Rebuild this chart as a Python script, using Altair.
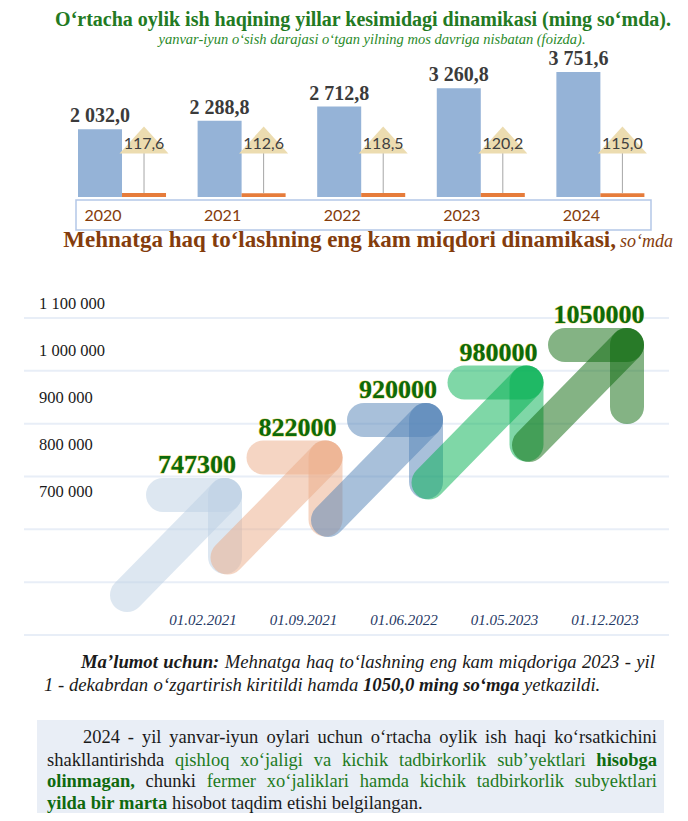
import altair as alt
import pandas as pd

# ---------------- data ----------------
years = ["2020", "2021", "2022", "2023", "2024"]
wages = [2032.0, 2288.8, 2712.8, 3260.8, 3751.6]
growth = [117.6, 112.6, 118.5, 120.2, 115.0]

dates = ["01.02.2021", "01.09.2021", "01.06.2022", "01.05.2023", "01.12.2023"]
min_wage = [747300, 822000, 920000, 980000, 1050000]
axis_ticks = [1100000, 1000000, 900000, 800000, 700000]
grid_rows = [0, 1, 2, 3, 4, 5, 6]

ARROW_COLORS = ["#bbcfe3", "#ebab87", "#5181b5", "#00b050", "#0a680a"]


def fmt(v, dec):
    return f"{v:,.{dec}f}".replace(",", " ").replace(".", ",")


W = 672
one = pd.DataFrame({"a": [0]})

# ---------------- panel A: bars ----------------
BLUE, ORANGE = "#95b3d7", "#e67c3b"
series_dom = ["wage", "growth"]
bars_df = pd.DataFrame({"year": years + years,
                        "series": ["wage"] * 5 + ["growth"] * 5,
                        "value": wages + growth})
wage_df = pd.DataFrame({"year": years, "series": "wage", "value": wages,
                        "label": [fmt(v, 1) for v in wages]})
growth_df = pd.DataFrame({"year": years, "series": "growth", "value": growth,
                          "label": [fmt(v, 1) for v in growth]})

xA = alt.Scale(type="band", domain=years, range=[70, 636.4], paddingInner=0.264, paddingOuter=0)
xoA = alt.Scale(type="band", domain=series_dom, paddingInner=0, paddingOuter=0)
yA = alt.Scale(domain=[0, 5672], range=[189, 0], nice=False, zero=True)


def xenc():
    return dict(x=alt.X("year:N", scale=xA, axis=None),
                xOffset=alt.XOffset("series:N", scale=xoA))


bars = alt.Chart(bars_df).mark_bar().encode(
    **xenc(),
    y=alt.Y("value:Q", scale=yA, axis=None),
    color=alt.Color("series:N", scale=alt.Scale(domain=series_dom, range=[BLUE, ORANGE]), legend=None),
)
box = alt.Chart(one).mark_rect(fill="white", stroke="#b4c7e7", strokeWidth=1.5).encode(
    x=alt.value(68), x2=alt.value(643), y=alt.value(192), y2=alt.value(222))
year_lbl = alt.Chart(wage_df).mark_text(font="Lato", fontSize=16, color="#843c0c", dx=3,
                                        baseline="alphabetic").encode(
    **xenc(), y=alt.value(213), text="year:N")
leaders = alt.Chart(growth_df).mark_rule(color="#a6a6a6", strokeWidth=1).encode(
    **xenc(), y=alt.Y("value:Q", scale=yA, axis=None), y2=alt.value(145))
tri = alt.Chart(growth_df).mark_point(shape="M0,-0.55L1,0.55L-1,0.55Z", size=2400, filled=True,
                                      color="#ecdcb0", opacity=1, strokeWidth=0).encode(
    **xenc(), y=alt.value(132))
growth_lbl = alt.Chart(growth_df).mark_text(font="Lato", fontSize=16, color="#404040",
                                            baseline="alphabetic").encode(
    **xenc(), y=alt.value(141), text="label:N")
wage_lbl = alt.Chart(wage_df).mark_text(font="Liberation Serif", fontSize=20, fontWeight="bold",
                                        color="#3b3b3b", baseline="alphabetic", dy=-7).encode(
    **xenc(), y=alt.Y("value:Q", scale=yA, axis=None), text="label:N")
title1 = alt.Chart(one).mark_text(
    text="O\u2018rtacha oylik ish haqining yillar kesimidagi dinamikasi (ming so\u2018mda).",
    font="Liberation Serif", fontSize=20, fontWeight="bold", color="#237a23",
    align="center", baseline="alphabetic").encode(x=alt.value(355), y=alt.value(18))
subtitle1 = alt.Chart(one).mark_text(
    text="yanvar-iyun o\u2018sish darajasi o\u2018tgan yilning mos davriga nisbatan (foizda).",
    font="Liberation Serif", fontSize=14.5, fontStyle="italic", color="#2a8a2a",
    align="center", baseline="alphabetic").encode(x=alt.value(364), y=alt.value(36))

panelA = alt.layer(bars, box, year_lbl, leaders, tri, growth_lbl, wage_lbl, title1, subtitle1).properties(
    width=W, height=228)

# ---------------- panel B: arrows ----------------
arrows_df = pd.DataFrame({"idx": list(range(5)), "date": dates, "value": min_wage,
                          "label": [str(v) for v in min_wage]})
ticks_df = pd.DataFrame({"v": axis_ticks, "label": [fmt(v, 0) for v in axis_ticks]})
grid_df = pd.DataFrame({"k": grid_rows})

xB = alt.Scale(domain=[0, 4], range=[217, 619], nice=False, zero=False)
yB = alt.Scale(domain=[0, 4], range=[259, 109], nice=False, zero=False)
colB = alt.Scale(domain=dates, range=ARROW_COLORS)

grid = alt.Chart(grid_df).mark_rule(color="#e8eef7", strokeWidth=2).encode(
    y=alt.Y("k:Q", scale=alt.Scale(domain=[0, 6], range=[82, 399], nice=False, zero=False), axis=None),
    x=alt.value(16), x2=alt.value(661))
ylabels = alt.Chart(ticks_df).mark_text(font="Liberation Serif", fontSize=16.5, color="#1a1a1a",
                                        align="left", baseline="alphabetic").encode(
    y=alt.Y("v:Q", scale=alt.Scale(domain=[700000, 1100000], range=[260.5, 72.5], nice=False, zero=False),
            axis=None),
    x=alt.value(31), text="label:N")


def seg(**off):
    return alt.Chart(arrows_df).mark_rule(strokeWidth=34, strokeCap="round", opacity=0.5, **off).encode(
        x=alt.X("idx:Q", scale=xB, axis=None), x2=alt.X2("idx"),
        y=alt.Y("idx:Q", scale=yB, axis=None), y2=alt.Y2("idx"),
        color=alt.Color("date:N", scale=colB, legend=None))


seg_h = seg(xOffset=-62, x2Offset=0)
seg_v = seg(yOffset=0, y2Offset=62)
seg_d = seg(xOffset=-98, yOffset=100)

val_halo = alt.Chart(arrows_df).mark_text(font="Liberation Serif", fontSize=26, fontWeight="bold",
                                          color="#e9d36a", stroke="#e9d36a", strokeWidth=0.9,
                                          dx=-28, dy=-22, baseline="alphabetic").encode(
    x=alt.X("idx:Q", scale=xB, axis=None), y=alt.Y("idx:Q", scale=yB, axis=None), text="label:N")
val_txt = alt.Chart(arrows_df).mark_text(font="Liberation Serif", fontSize=26, fontWeight="bold",
                                         color="#0b6a0b", dx=-28, dy=-22, baseline="alphabetic").encode(
    x=alt.X("idx:Q", scale=xB, axis=None), y=alt.Y("idx:Q", scale=yB, axis=None), text="label:N")
date_txt = alt.Chart(arrows_df).mark_text(font="Liberation Serif", fontSize=15, fontStyle="italic",
                                          color="#1f3864", dx=-22, baseline="alphabetic").encode(
    x=alt.X("idx:Q", scale=xB, axis=None), y=alt.value(389), text="date:N")
title2a = alt.Chart(one).mark_text(
    text="Mehnatga haq to\u2018lashning eng kam miqdori dinamikasi,",
    font="Liberation Serif", fontSize=23, fontWeight="bold", color="#843c0c",
    align="right", baseline="alphabetic").encode(x=alt.value(608), y=alt.value(11))
title2b = alt.Chart(one).mark_text(
    text="so\u2018mda", font="Liberation Serif", fontSize=18, fontStyle="italic", color="#843c0c",
    align="left", baseline="alphabetic").encode(x=alt.value(612), y=alt.value(11))

panelB = alt.layer(grid, ylabels, seg_h, seg_v, seg_d, val_halo, val_txt, date_txt, title2a, title2b
                   ).resolve_scale(x="independent", y="independent").properties(width=W, height=414)

# ---------------- panel C: notes ----------------
TW = {
    "r": dict(zip("abcdefghijklmnopqrstuvwxyz",
                  [444, 500, 444, 500, 444, 333, 500, 500, 278, 278, 500, 278, 778, 500, 500, 500, 500, 333, 389,
                   278, 500, 500, 722, 500, 500, 444])),
    "b": dict(zip("abcdefghijklmnopqrstuvwxyz",
                  [500, 556, 444, 556, 444, 333, 500, 556, 278, 333, 556, 278, 833, 556, 500, 556, 556, 444, 389,
                   333, 556, 500, 722, 500, 500, 444])),
    "i": dict(zip("abcdefghijklmnopqrstuvwxyz",
                  [500, 500, 444, 500, 444, 278, 500, 500, 278, 278, 444, 278, 722, 500, 500, 500, 500, 389, 389,
                   278, 500, 444, 667, 444, 444, 389])),
    "bi": dict(zip("abcdefghijklmnopqrstuvwxyz",
                   [500, 500, 444, 500, 444, 333, 500, 556, 278, 278, 500, 278, 778, 556, 500, 500, 500, 389, 389,
                    278, 556, 444, 667, 500, 444, 389])),
}
for st in TW:
    TW[st].update({c: 500 for c in "0123456789"})
    TW[st].update({",": 250, ".": 250, "-": 333, "\u2018": 333, "\u2019": 333, " ": 250,
                   ":": 278 if st == "r" else 333})
TW["r"]["M"] = 889
TW["b"]["M"] = 944
TW["i"]["M"] = 833
TW["bi"]["M"] = 889


def tw(s, st, size):
    return sum(TW[st].get(ch, 500) for ch in s) / 1000.0 * size


STYLE = {"r": ("normal", "normal"), "b": ("bold", "normal"), "i": ("normal", "italic"), "bi": ("bold", "italic")}


def layout(words, left, right, y, size, justify):
    widths = [tw(w, st, size) for w, st, c in words]
    gap = (right - left - sum(widths)) / (len(words) - 1) if justify else 0.25 * size
    x = left
    rows = []
    for (w, st, c), wd in zip(words, widths):
        rows.append({"text": w, "x": x, "y": y, "st": st, "color": c, "size": size})
        x += wd + gap
    return rows


K, G, GB = "#1a1a1a", "#1e7b1e", "#0f6a0f"


def ws(text, st, c):
    return [(w, st, c) for w in text.split(" ")]


rows = []
rows += layout(ws("Ma\u2019lumot uchun:", "bi", K) + ws("Mehnatga haq to\u2018lashning eng kam miqdoriga 2023 - yil", "i", K),
               73, 647, 18, 18.7, True)
rows += layout(ws("1 - dekabrdan o\u2018zgartirish kiritildi hamda", "i", K) + ws("1050,0 ming so\u2018mga", "bi", K)
               + ws("yetkazildi.", "i", K), 36, None, 41, 18.7, False)
rows += layout(ws("2024 - yil yanvar-iyun oylari uchun o\u2018rtacha oylik ish haqi ko\u2018rsatkichini", "r", K),
               75, 649, 93, 18.5, True)
rows += layout(ws("shakllantirishda", "r", K) + ws("qishloq xo\u2018jaligi va kichik tadbirkorlik sub\u2019yektlari", "r", G)
               + ws("hisobga", "b", GB), 39, 649, 115.5, 18.5, True)
rows += layout(ws("olinmagan,", "b", GB) + ws("chunki", "r", K)
               + ws("fermer xo\u2018jaliklari hamda kichik tadbirkorlik subyektlari", "r", G), 39, 649, 137, 18.5, True)
rows += layout(ws("yilda bir marta", "b", GB) + ws("hisobot taqdim etishi belgilangan.", "r", K),
               39, None, 158.5, 18.5, False)
words_df = pd.DataFrame(rows)

note_box = alt.Chart(one).mark_rect(fill="#e9eef6").encode(
    x=alt.value(29), x2=alt.value(656), y=alt.value(70), y2=alt.value(163))
text_layers = []
for st, (fw, fs) in STYLE.items():
    sub = words_df[words_df["st"] == st]
    if len(sub) == 0:
        continue
    text_layers.append(alt.Chart(sub).mark_text(font="Liberation Serif", fontWeight=fw, fontStyle=fs,
                                                align="left", baseline="alphabetic").encode(
        x=alt.X("x:Q", scale=None), y=alt.Y("y:Q", scale=None), text="text:N",
        color=alt.Color("color:N", scale=None), size=alt.Size("size:Q", scale=None)))

panelC = alt.layer(note_box, *text_layers).properties(width=W, height=163)

chart = alt.vconcat(panelA, panelB, panelC, spacing=0, bounds="flush").resolve_scale(
    color="independent").properties(padding=0).configure_view(stroke=None)
chart.save("out.html", embed_options={"renderer": "svg", "actions": False})
